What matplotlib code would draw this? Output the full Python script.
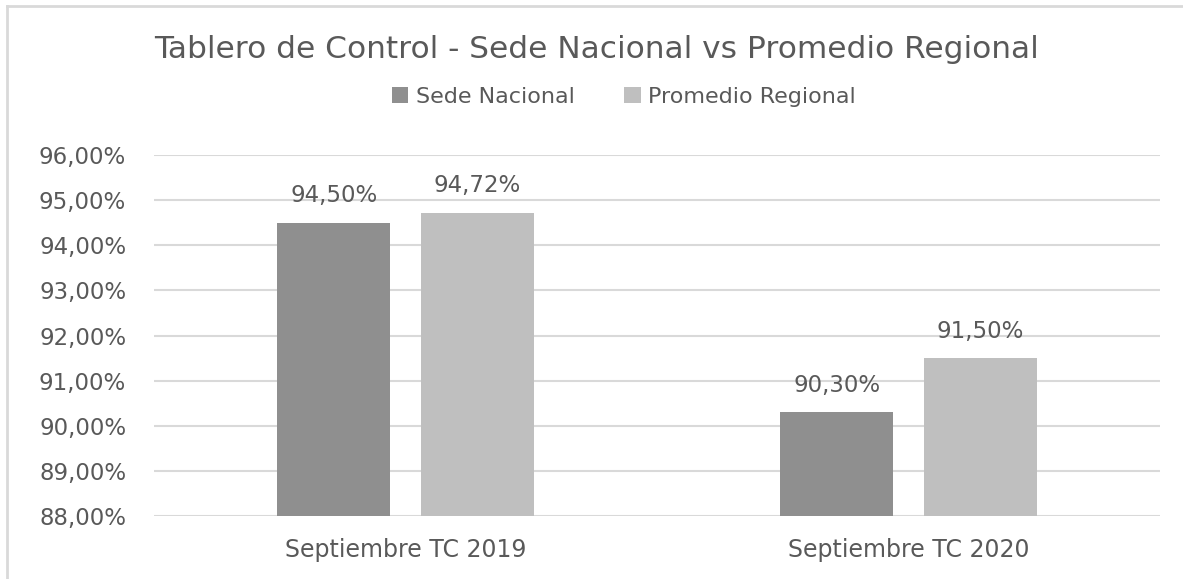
import matplotlib.pyplot as plt
from matplotlib.lines import Line2D
import numpy as np

categories = ["Septiembre TC 2019", "Septiembre TC 2020"]
sede_nacional = [94.50, 90.30]
promedio_regional = [94.72, 91.50]
series_names = ["Sede Nacional", "Promedio Regional"]
y_ticks = [88, 89, 90, 91, 92, 93, 94, 95, 96]

DARK = "#8f8f8f"
LIGHT = "#bfbfbf"
TEXT = "#595959"
GRID = "#d9d9d9"


def pct(v: float) -> str:
    return f"{v:.2f}%".replace(".", ",")


def plot_chart() -> None:
    plt.rcParams["font.family"] = ["DejaVu Sans"]
    fig = plt.figure(figsize=(11.83, 5.79), dpi=100)
    ax = fig.add_axes([154 / 1183, 1 - 516 / 579, 1006 / 1183, 361 / 579])

    x = np.arange(len(categories))
    width = 0.2247
    offset = width / 2 + 0.03

    bars1 = ax.bar(x - offset, sede_nacional, width, color=DARK, label=series_names[0], zorder=3)
    bars2 = ax.bar(x + offset, promedio_regional, width, color=LIGHT, label=series_names[1], zorder=3)

    for bars, values in ((bars1, sede_nacional), (bars2, promedio_regional)):
        for bar, v in zip(bars, values):
            ax.annotate(pct(v), (bar.get_x() + bar.get_width() / 2, v),
                        xytext=(0, 11), textcoords="offset points",
                        ha="center", va="bottom", fontsize=16.5, color=TEXT)

    ax.set_xlim(-0.5, 1.5)
    ax.set_ylim(88, 96)
    ax.set_yticks(y_ticks)
    ax.set_yticklabels([pct(v) for v in y_ticks])
    ax.set_xticks(x)
    ax.set_xticklabels(categories)
    ax.tick_params(axis="y", length=0, pad=20, labelsize=16.5, labelcolor=TEXT)
    ax.tick_params(axis="x", length=0, pad=16, labelsize=17, labelcolor=TEXT)
    ax.grid(axis="y", color=GRID, linewidth=1.5, zorder=0)
    for spine in ax.spines.values():
        spine.set_visible(False)

    fig.text(596 / 1183, 1 - 49 / 579, "Tablero de Control - Sede Nacional vs Promedio Regional",
             ha="center", va="center", fontsize=22.5, color=TEXT)
    fig.legend(loc="center", bbox_to_anchor=(624 / 1183, 1 - 97 / 579), ncol=2, frameon=False,
               fontsize=16, labelcolor=TEXT, handlelength=0.75, handleheight=0.75,
               handletextpad=0.35, columnspacing=2.2)

    # chart border: only the left and top edges show in the crop
    left = 7 / 1183
    top = 1 - 6 / 579
    fig.add_artist(Line2D([left, left], [0, top], transform=fig.transFigure, color=GRID, linewidth=2))
    fig.add_artist(Line2D([left, 1.01], [top, top], transform=fig.transFigure, color=GRID, linewidth=2))

    fig.savefig("out.png", dpi=100)


if __name__ == "__main__":
    plot_chart()
